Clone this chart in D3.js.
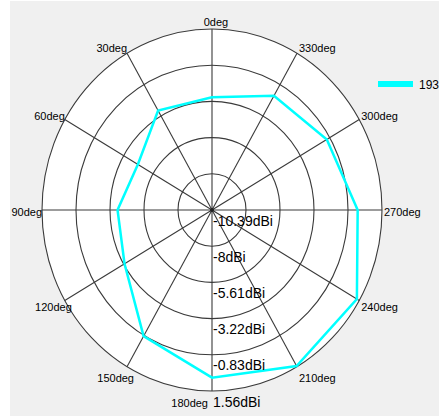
<!DOCTYPE html>
<html><head><meta charset="utf-8">
<script src="https://cdn.jsdelivr.net/npm/d3@7"></script>
<style>html,body{margin:0;padding:0;background:#fff;overflow:hidden}</style>
</head><body>
<script>
// ---- data ----
const angles = [0, 30, 60, 90, 120, 150, 180, 210, 240, 270, 300, 330];
const angleLabels = ["0deg","30deg","60deg","90deg","120deg","150deg","180deg","210deg","240deg","270deg","300deg","330deg"];
const gain193 = [-2.95, -2.81, -4.37, -3.75, -3.29, -0.77, 0.68, 1.5, 1.37, -0.15, -1.07, -1.68];
const ringValues = [-10.39, -8, -5.61, -3.22, -0.83, 1.56];
const ringLabels = ["-10.39dBi", "-8dBi", "-5.61dBi", "-3.22dBi", "-0.83dBi", "1.56dBi"];
const seriesName = "193";

// ---- layout ----
const W = 439, H = 416;
const cx = 212, cy = 210, rx = 170, ry = 181;

const svg = d3.select("body").append("svg").attr("width", W).attr("height", H)
  .style("font-family", "'Liberation Sans', Arial, sans-serif");

svg.append("rect").attr("x", 10).attr("y", 1).attr("width", W - 10).attr("height", H - 1).attr("fill", "#f0f0f0");

const r = d3.scaleLinear().domain([ringValues[0], ringValues[ringValues.length - 1]]).range([0, 1]);
const px = (a, v) => cx - rx * r(v) * Math.sin(a * Math.PI / 180);
const py = (a, v) => cy - ry * r(v) * Math.cos(a * Math.PI / 180);

// plot area
svg.append("ellipse").attr("cx", cx).attr("cy", cy).attr("rx", rx).attr("ry", ry)
  .attr("fill", "#fff").attr("stroke", "none");

// rings
svg.selectAll("ellipse.ring").data(ringValues.slice(1)).enter().append("ellipse")
  .attr("class", "ring")
  .attr("cx", cx).attr("cy", cy)
  .attr("rx", d => rx * r(d)).attr("ry", d => ry * r(d))
  .attr("fill", "none").attr("stroke", "#3a3a3a").attr("stroke-width", 1.1);

// spokes
const maxV = ringValues[ringValues.length - 1];
svg.selectAll("line.spoke").data(angles).enter().append("line")
  .attr("class", "spoke")
  .attr("x1", cx).attr("y1", cy)
  .attr("x2", a => px(a, maxV)).attr("y2", a => py(a, maxV))
  .attr("stroke", "#3a3a3a").attr("stroke-width", 1.1);

// series
const line = d3.line().x(d => px(d[0], d[1])).y(d => py(d[0], d[1])).curve(d3.curveLinearClosed);
svg.append("path").datum(angles.map((a, i) => [a, gain193[i]]))
  .attr("d", line).attr("fill", "none").attr("stroke", "#00ffff").attr("stroke-width", 2.5)
  .attr("stroke-linejoin", "miter");

// center dot
svg.append("circle").attr("cx", cx).attr("cy", cy).attr("r", 2).attr("fill", "#202020");

// ring labels
svg.selectAll("text.rl").data(ringValues).enter().append("text")
  .attr("class", "rl")
  .attr("x", cx + 1)
  .attr("y", d => cy + ry * r(d) + 15.5)
  .attr("font-size", 14).attr("fill", "#000")
  .text((d, i) => ringLabels[i]);

// angle labels
svg.selectAll("text.al").data(angles).enter().append("text")
  .attr("class", "al")
  .attr("font-size", 11).attr("fill", "#000")
  .each(function (a, i) {
    const ex = px(a, maxV), ey = py(a, maxV);
    const c = Math.cos(a * Math.PI / 180);
    const s = Math.sin(a * Math.PI / 180);
    let anchor, x, yc;
    if (a === 0) { anchor = "middle"; x = ex + 4; yc = ey - 7; }
    else if (a === 180) { anchor = "end"; x = ex - 4; yc = ey + 12; }
    else if (s > 0) { anchor = "end"; x = ex + (c < 0 ? 7 : 0); yc = c > 0 ? ey - 6.5 * c : ey - 12.5 * c; }
    else { anchor = "start"; x = ex + 2; yc = c > 0 ? ey - 6.5 * c : ey - 12.5 * c; }
    if (a === 90 || a === 270) yc = ey + 2;
    d3.select(this).attr("text-anchor", anchor).attr("x", x).attr("y", yc + 4).text(angleLabels[i]);
  });

// legend
svg.append("line").attr("x1", 378).attr("x2", 413).attr("y1", 84).attr("y2", 84)
  .attr("stroke", "#00ffff").attr("stroke-width", 6);
svg.append("text").attr("x", 419).attr("y", 88.5).attr("font-size", 12).attr("fill", "#000").text(seriesName);
</script>
</body></html>
